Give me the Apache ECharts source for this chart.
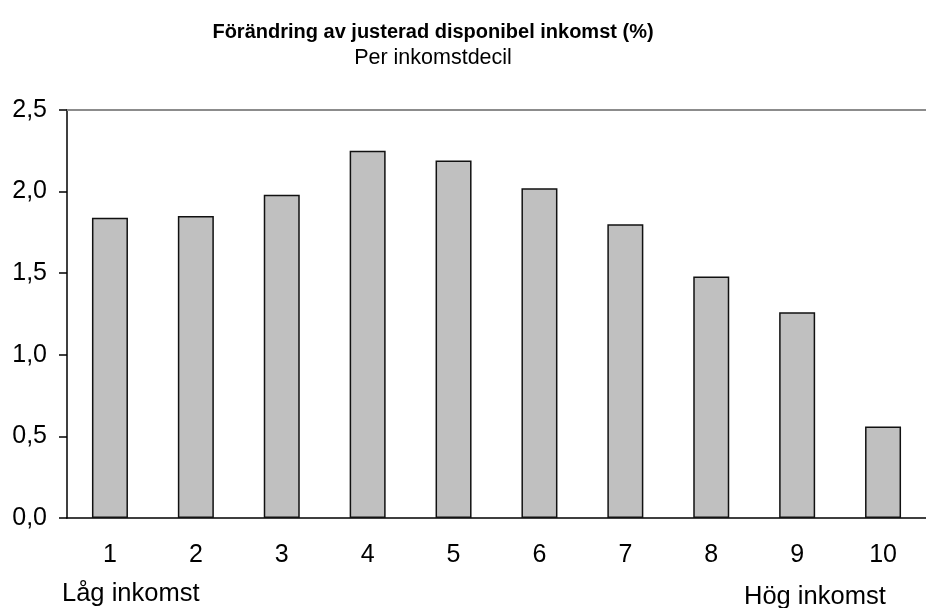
<!DOCTYPE html>
<html>
<head>
<meta charset="utf-8">
<script src="https://cdn.jsdelivr.net/npm/echarts@6/dist/echarts.min.js"></script>
<style>
  html, body { margin: 0; padding: 0; background: #fff; }
  #chart { width: 926px; height: 608px; }
</style>
</head>
<body>
<div id="chart"></div>
<script>
// decilgrupper och förändring i procent
const deciles = ["1", "2", "3", "4", "5", "6", "7", "8", "9", "10"];
const change = [1.84, 1.85, 1.98, 2.25, 2.19, 2.02, 1.80, 1.48, 1.26, 0.56];
const lowLabel = "Låg inkomst";
const highLabel = "Hög inkomst";

const font = "'Liberation Sans', Arial, sans-serif";
const chart = echarts.init(document.getElementById("chart"));

chart.setOption({
  animation: false,
  backgroundColor: "#fff",
  title: {
    text: "Förändring av justerad disponibel inkomst (%)",
    subtext: "Per inkomstdecil",
    left: 428,
    top: 17,
    textAlign: "center",
    itemGap: 5,
    textStyle: { fontFamily: font, fontSize: 20, fontWeight: "bold", color: "#000" },
    subtextStyle: { fontFamily: font, fontSize: 21.5, color: "#000" },
  },
  grid: { left: 67, top: 110, width: 871, height: 408 },
  xAxis: [
    {
      type: "category",
      data: deciles,
      axisLine: { lineStyle: { color: "#000", width: 1.5 } },
      axisTick: { length: 9, lineStyle: { color: "#000", width: 1.5 } },
      axisLabel: { color: "#000", fontFamily: font, fontSize: 25, margin: 25 },
    },
    {
      type: "category",
      data: deciles,
      position: "top",
      axisLine: { lineStyle: { color: "#8c8c8c", width: 2 } },
      axisTick: { show: false },
      axisLabel: { show: false },
    },
  ],
  yAxis: {
    type: "value",
    min: 0,
    max: 2.5,
    interval: 0.5,
    axisLine: { show: true, lineStyle: { color: "#000", width: 1.5 } },
    axisTick: { show: true, length: 8, lineStyle: { color: "#000", width: 1.5 } },
    splitLine: { show: false },
    axisLabel: {
      color: "#000",
      fontFamily: font,
      fontSize: 25,
      margin: 20,
      formatter: (v) => v.toFixed(1).replace(".", ","),
    },
  },
  series: [
    {
      type: "bar",
      data: change,
      barWidth: 36,
      itemStyle: { color: "#c0c0c0", borderColor: "#111", borderWidth: 1.5 },
    },
  ],
  graphic: [
    {
      type: "text",
      left: 62,
      top: 581,
      style: { text: lowLabel, fontFamily: font, fontSize: 25.5, fill: "#000" },
    },
    {
      type: "text",
      left: 744,
      top: 584,
      style: { text: highLabel, fontFamily: font, fontSize: 25.5, fill: "#000" },
    },
  ],
});
</script>
</body>
</html>
